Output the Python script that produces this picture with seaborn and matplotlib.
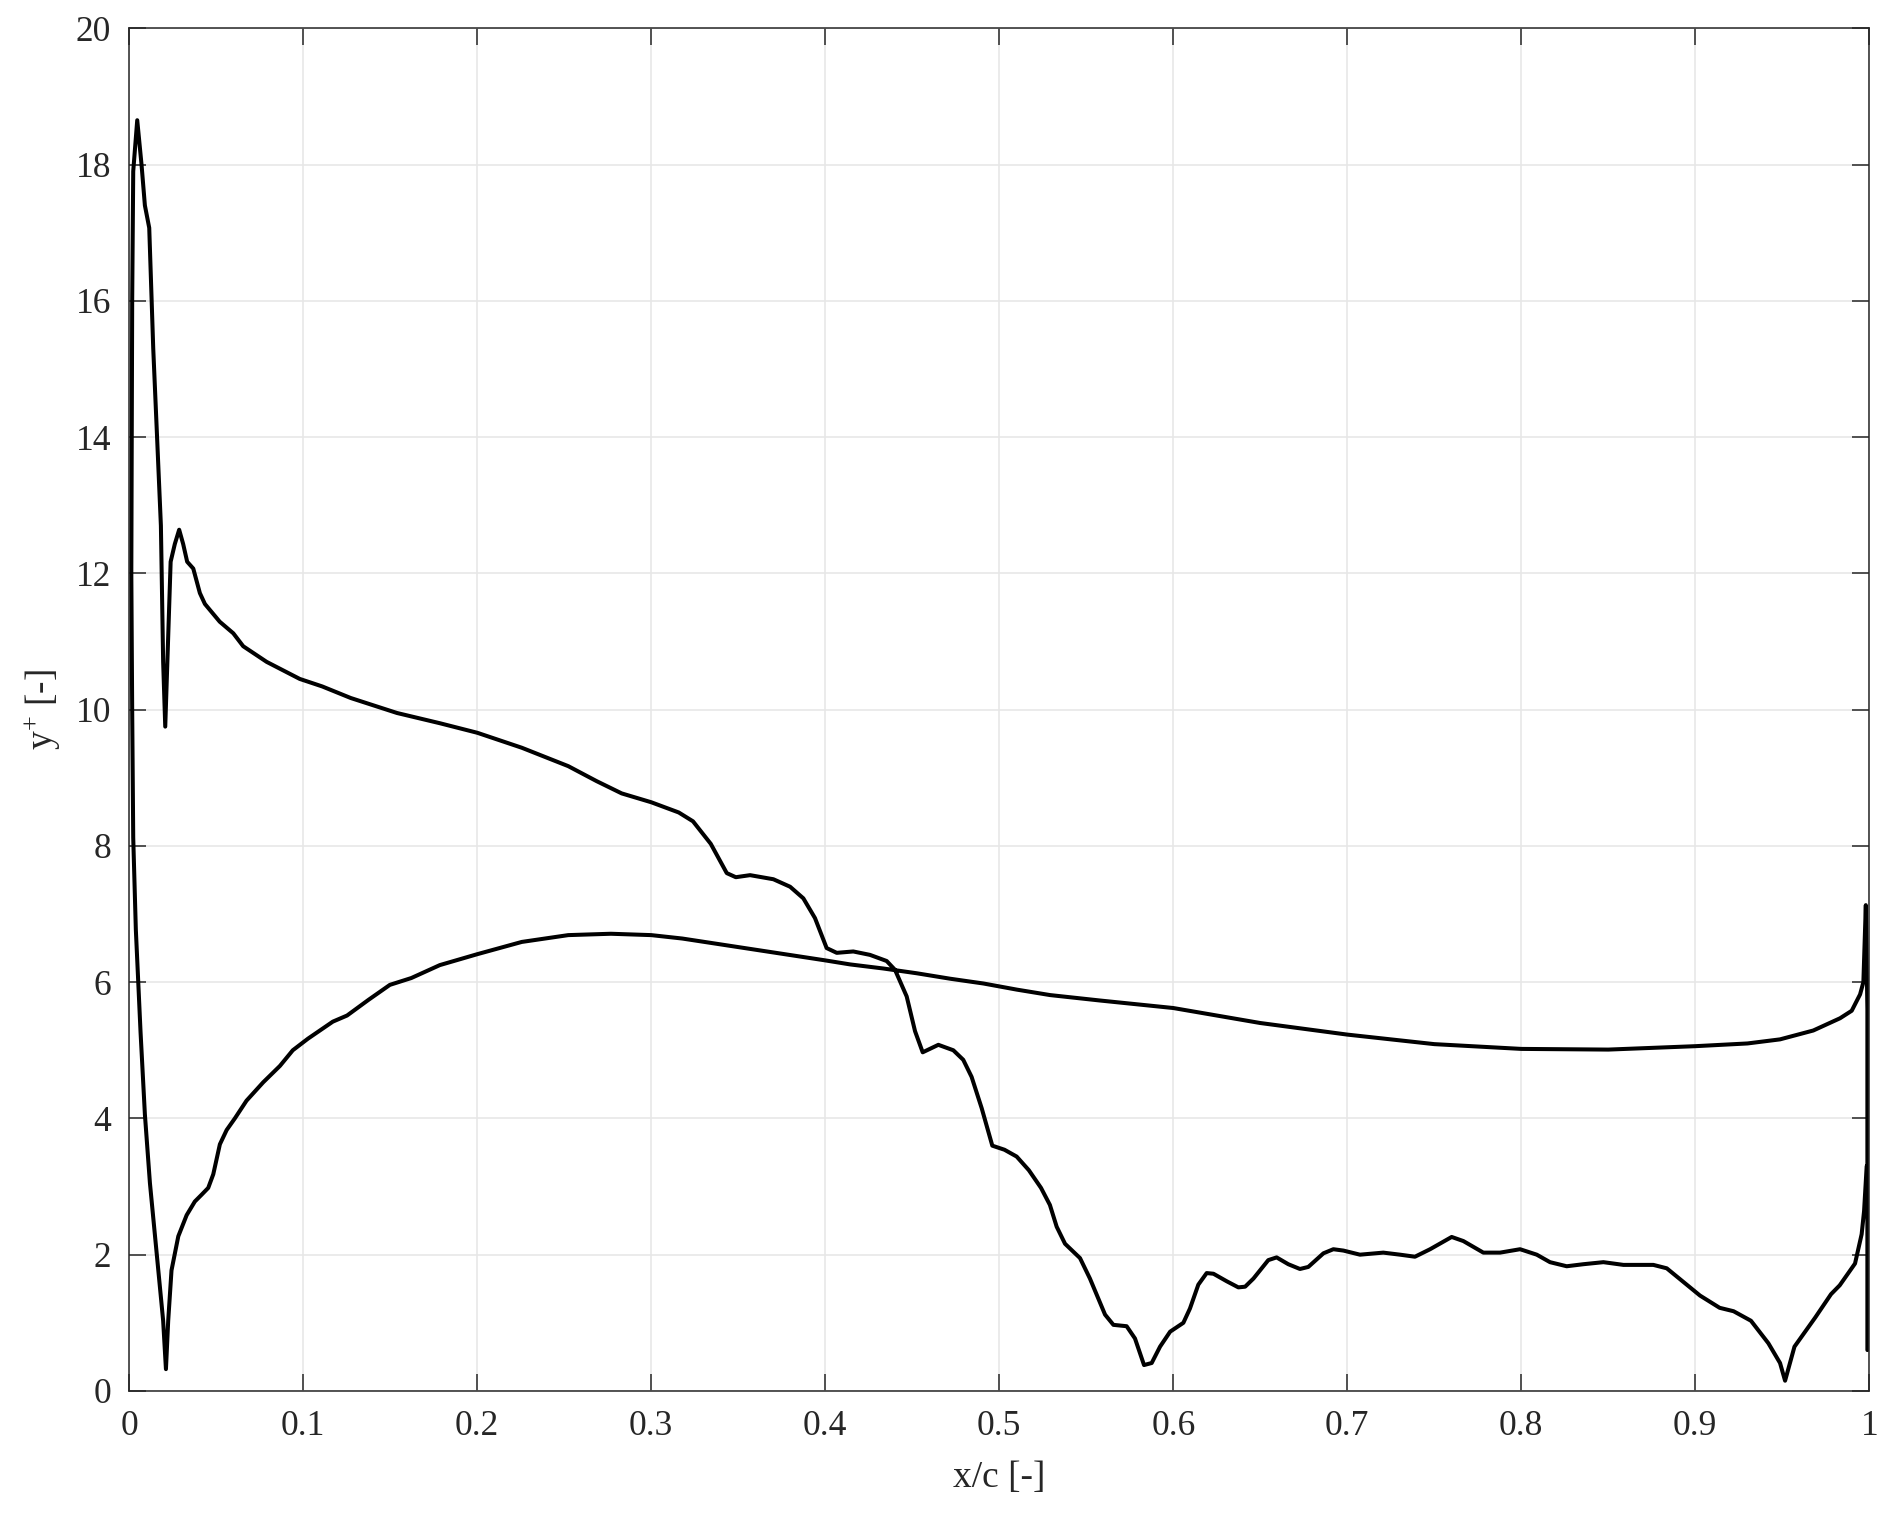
import numpy as np
import pandas as pd
import matplotlib
matplotlib.use("Agg")
import matplotlib.pyplot as plt
import seaborn as sns

# pressure side, leading edge -> trailing edge
x_pressure = [0.0012, 0.0017, 0.0023, 0.0038, 0.0052, 0.0065, 0.009, 0.0119, 0.0157, 0.0195,
              0.0211, 0.0224, 0.0243, 0.0282, 0.033, 0.0377, 0.0416, 0.0454, 0.0483, 0.0521,
              0.056, 0.0607, 0.0674, 0.077, 0.0866, 0.094, 0.1027, 0.117, 0.1252, 0.1375,
              0.1498, 0.1621, 0.1785, 0.2, 0.2256, 0.2523, 0.2768, 0.3, 0.3178, 0.3383,
              0.3588, 0.3793, 0.3998, 0.4143, 0.4334, 0.4526, 0.4718, 0.4909, 0.5101, 0.5292,
              0.558, 0.6, 0.65, 0.7, 0.75, 0.8, 0.85, 0.9, 0.93, 0.9487,
              0.9678, 0.9832, 0.9899, 0.9947, 0.9966, 0.998, 0.9989, 0.9989]
yplus_pressure = [12.0, 10.0, 8.12, 6.77, 6.0, 5.27, 4.06, 3.05, 2.04, 1.03,
                  0.32, 1.03, 1.77, 2.27, 2.58, 2.78, 2.88, 2.98, 3.18, 3.62,
                  3.83, 4.0, 4.26, 4.53, 4.77, 5.0, 5.17, 5.42, 5.51, 5.74,
                  5.96, 6.06, 6.25, 6.41, 6.59, 6.69, 6.71, 6.69, 6.64, 6.56,
                  6.48, 6.40, 6.32, 6.26, 6.2, 6.13, 6.05, 5.98, 5.89, 5.81,
                  5.73, 5.62, 5.40, 5.23, 5.09, 5.02, 5.01, 5.06, 5.1, 5.16,
                  5.29, 5.47, 5.58, 5.82, 6.0, 7.13, 5.6, 0.6]

# suction side, leading edge -> trailing edge
x_suction = [0.0012, 0.0017, 0.0023, 0.0046, 0.0071, 0.009, 0.0115, 0.0138, 0.016, 0.0182,
             0.0195, 0.0207, 0.0224, 0.0238, 0.0262, 0.0287, 0.031, 0.0333, 0.0368, 0.0406,
             0.0435, 0.052, 0.0598, 0.0655, 0.079, 0.098, 0.1109, 0.1273, 0.1539, 0.1785,
             0.2, 0.2256, 0.2523, 0.2686, 0.283, 0.3, 0.3158, 0.324, 0.3342, 0.3434,
             0.3486, 0.3568, 0.3702, 0.3798, 0.3874, 0.3941, 0.4008, 0.4066, 0.4161, 0.4257,
             0.4353, 0.4401, 0.4468, 0.4516, 0.456, 0.465, 0.4736, 0.4793, 0.4841, 0.4899,
             0.496, 0.503, 0.51, 0.517, 0.524, 0.5291, 0.533, 0.5378, 0.5464, 0.5521,
             0.5608, 0.5656, 0.5732, 0.578, 0.5832, 0.5876, 0.5924, 0.5982, 0.6058, 0.6096,
             0.6144, 0.6192, 0.6231, 0.6307, 0.6374, 0.6413, 0.6461, 0.6546, 0.6594, 0.6661,
             0.6728, 0.6776, 0.6863, 0.692, 0.6978, 0.7073, 0.7207, 0.7303, 0.7389, 0.7476,
             0.76, 0.7667, 0.7782, 0.7878, 0.7993, 0.8089, 0.8165, 0.8261, 0.8357, 0.8472,
             0.8587, 0.8759, 0.8836, 0.8931, 0.9027, 0.914, 0.922, 0.932, 0.942, 0.9487,
             0.9516, 0.957, 0.969, 0.978, 0.983, 0.9918, 0.9956, 0.997, 0.9985]
yplus_suction = [12.0, 16.0, 17.9, 18.65, 17.99, 17.4, 17.07, 15.3, 14.0, 12.7,
                 10.7, 9.75, 11.06, 12.17, 12.43, 12.64, 12.43, 12.17, 12.07, 11.71,
                 11.55, 11.29, 11.12, 10.93, 10.7, 10.45, 10.34, 10.17, 9.95, 9.80,
                 9.66, 9.44, 9.17, 8.95, 8.77, 8.64, 8.49, 8.36, 8.03, 7.6,
                 7.54, 7.57, 7.51, 7.40, 7.23, 6.94, 6.5, 6.43, 6.45, 6.40,
                 6.31, 6.18, 5.79, 5.28, 4.97, 5.08, 5.0, 4.86, 4.61, 4.15,
                 3.6, 3.54, 3.44, 3.24, 2.98, 2.73, 2.41, 2.16, 1.95, 1.65,
                 1.12, 0.97, 0.95, 0.77, 0.38, 0.41, 0.65, 0.87, 1.0, 1.21,
                 1.56, 1.73, 1.72, 1.61, 1.52, 1.53, 1.65, 1.92, 1.96, 1.86,
                 1.79, 1.82, 2.02, 2.08, 2.06, 2.0, 2.03, 2.0, 1.97, 2.08,
                 2.26, 2.2, 2.03, 2.03, 2.08, 2.0, 1.89, 1.83, 1.86, 1.89,
                 1.85, 1.85, 1.80, 1.6, 1.4, 1.22, 1.17, 1.03, 0.7, 0.41,
                 0.15, 0.65, 1.08, 1.42, 1.55, 1.87, 2.3, 2.64, 3.3]

x_ticks = [0, 0.1, 0.2, 0.3, 0.4, 0.5, 0.6, 0.7, 0.8, 0.9, 1]
x_ticklabels = ["0", "0.1", "0.2", "0.3", "0.4", "0.5", "0.6", "0.7", "0.8", "0.9", "1"]
y_ticks = [0, 2, 4, 6, 8, 10, 12, 14, 16, 18, 20]

# one closed path around the airfoil: trailing edge -> pressure side -> LE -> suction side -> TE
df = pd.DataFrame({
    "x": x_pressure[::-1] + x_suction[1:],
    "yplus": yplus_pressure[::-1] + yplus_suction[1:],
})

sns.set_style("ticks")
plt.rcParams["font.family"] = ["Liberation Serif", "DejaVu Serif"]
plt.rcParams["mathtext.fontset"] = "custom"
plt.rcParams["mathtext.rm"] = "Liberation Serif"
plt.rcParams["mathtext.it"] = "Liberation Serif"

fig = plt.figure(figsize=(18.92, 15.18), dpi=100)
ax = fig.add_axes([0.0683, 0.0837, 0.9197, 0.8977])

sns.lineplot(data=df, x="x", y="yplus", sort=False, estimator=None,
             color="black", linewidth=2.9, ax=ax)
for l in ax.lines:
    l.set_solid_joinstyle("round")

ax.set_xlim(0, 1)
ax.set_ylim(0, 20)
ax.set_xticks(x_ticks)
ax.set_xticklabels(x_ticklabels)
ax.set_yticks(y_ticks)
ax.grid(True, color="#e6e6e6", linewidth=1.1)
ax.set_axisbelow(True)

for s in ax.spines.values():
    s.set_color("#262626")
    s.set_linewidth(1.1)
ax.tick_params(axis="both", direction="in", length=12, width=1.1, color="#262626",
               labelcolor="#262626", labelsize=25.5, top=True, right=True)
ax.tick_params(axis="x", pad=14)
ax.tick_params(axis="y", pad=13)

ax.set_xlabel("x/c [-]", fontsize=27, color="#262626", labelpad=12)
ax.set_ylabel(r"y$^{+}$ [-]", fontsize=27, color="#262626", labelpad=10)

fig.savefig("out.png", dpi=100, facecolor="white")
